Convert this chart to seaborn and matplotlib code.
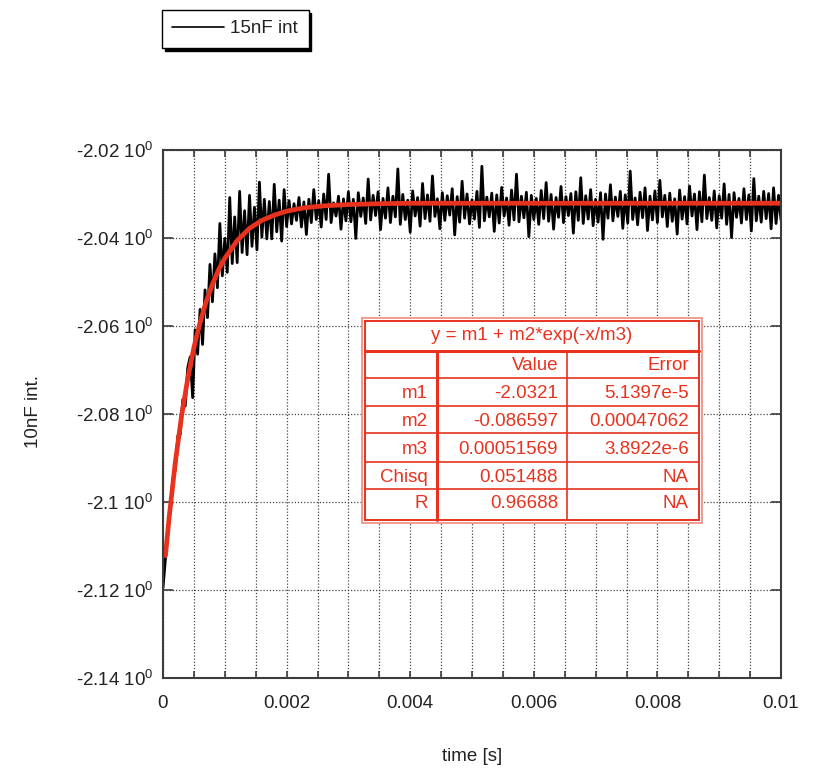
import numpy as np
import pandas as pd
import seaborn as sns
import matplotlib.pyplot as plt
from matplotlib.ticker import MultipleLocator, FixedLocator
from matplotlib.patches import Rectangle
from matplotlib.lines import Line2D

# measured trace, sampled every 40 us from 0 to 0.01 s
signal = [
    -2.1195, -2.1128, -2.1055, -2.1019, -2.0946, -2.0927, -2.0850, -2.0846, -2.0767, -2.0782,
    -2.0695, -2.0670, -2.0763, -2.0609, -2.0664, -2.0562, -2.0642, -2.0518, -2.0581, -2.0460,
    -2.0545, -2.0436, -2.0513, -2.0367, -2.0486, -2.0401, -2.0478, -2.0308, -2.0458, -2.0352,
    -2.0456, -2.0294, -2.0433, -2.0338, -2.0438, -2.0303, -2.0419, -2.0330, -2.0427, -2.0273,
    -2.0398, -2.0312, -2.0402, -2.0317, -2.0402, -2.0278, -2.0386, -2.0314, -2.0407, -2.0290,
    -2.0374,
    -2.0315, -2.0368, -2.0322, -2.0360, -2.0308, -2.0375, -2.0318, -2.0392, -2.0312, -2.0365,
    -2.0290, -2.0358, -2.0315, -2.0375, -2.0300, -2.0358, -2.0255, -2.0365, -2.0320, -2.0350,
    -2.0305, -2.0380, -2.0311, -2.0361, -2.0295, -2.0363, -2.0312, -2.0401, -2.0297, -2.0351,
    -2.0309, -2.0367, -2.0266, -2.0359, -2.0303, -2.0349, -2.0295, -2.0381, -2.0310, -2.0355,
    -2.0286, -2.0365, -2.0305, -2.0352, -2.0243, -2.0369, -2.0301, -2.0358, -2.0314, -2.0387,
    -2.0293, -2.0350, -2.0308, -2.0373, -2.0276, -2.0356, -2.0302, -2.0362, -2.0259, -2.0351,
    -2.0311, -2.0379, -2.0297, -2.0360, -2.0304, -2.0348, -2.0288, -2.0393, -2.0306, -2.0364,
    -2.0271, -2.0355, -2.0300, -2.0368, -2.0313, -2.0357, -2.0294, -2.0376, -2.0237, -2.0361,
    -2.0307, -2.0352, -2.0298, -2.0385, -2.0302, -2.0366, -2.0285, -2.0350, -2.0309, -2.0371,
    -2.0291, -2.0359, -2.0255, -2.0363, -2.0305, -2.0354, -2.0296, -2.0397, -2.0303, -2.0358,
    -2.0310, -2.0369, -2.0292, -2.0356, -2.0274, -2.0362, -2.0301, -2.0380, -2.0308, -2.0353,
    -2.0283, -2.0365, -2.0306, -2.0349, -2.0299, -2.0389, -2.0295, -2.0360, -2.0263, -2.0367,
    -2.0304, -2.0357, -2.0290, -2.0372, -2.0312, -2.0364, -2.0297, -2.0403, -2.0300, -2.0355,
    -2.0279, -2.0361, -2.0307, -2.0351, -2.0294, -2.0378, -2.0302, -2.0366, -2.0248, -2.0358,
    -2.0309, -2.0370, -2.0296, -2.0354, -2.0286, -2.0383, -2.0305, -2.0359, -2.0293, -2.0365,
    -2.0269, -2.0352, -2.0303, -2.0374, -2.0298, -2.0362, -2.0311, -2.0391, -2.0291, -2.0357,
    -2.0306, -2.0368, -2.0282, -2.0350, -2.0300, -2.0381, -2.0295, -2.0363, -2.0257, -2.0356,
    -2.0308, -2.0360, -2.0293, -2.0377, -2.0304, -2.0355, -2.0277, -2.0369, -2.0301, -2.0399,
    -2.0297, -2.0353, -2.0310, -2.0366, -2.0288, -2.0358, -2.0302, -2.0384, -2.0265, -2.0361,
    -2.0305, -2.0364, -2.0294, -2.0356, -2.0299, -2.0379, -2.0286, -2.0367, -2.0303, -2.0359,
]
t_end = 0.01

# red fitted curve
fit_t = [0.00004, 0.0001, 0.0002, 0.0003, 0.0004, 0.0005, 0.0006, 0.0007, 0.0008, 0.0009,
         0.001, 0.0012, 0.0014, 0.0016, 0.0018, 0.002, 0.0023, 0.0026, 0.003, 0.0035,
         0.004, 0.006, 0.008, 0.01]
fit_y = [-2.1122, -2.1034, -2.0909, -2.0805, -2.0720, -2.0649, -2.0592, -2.0544, -2.0505, -2.0472,
         -2.0446, -2.0406, -2.0378, -2.0360, -2.0348, -2.0339, -2.0331, -2.0327, -2.0324, -2.0322,
         -2.0321, -2.0321, -2.0321, -2.0321]

xticks = [0, 0.002, 0.004, 0.006, 0.008, 0.01]
xtick_labels = ['0', '0.002', '0.004', '0.006', '0.008', '0.01']
yticks = [-2.14, -2.12, -2.1, -2.08, -2.06, -2.04, -2.02]

fit_title = 'y = m1 + m2*exp(-x/m3)'
param_names = ['m1', 'm2', 'm3', 'Chisq', 'R']
param_values = ['-2.0321', '-0.086597', '0.00051569', '0.051488', '0.96688']
param_errors = ['5.1397e-5', '0.00047062', '3.8922e-6', 'NA', 'NA']

sns.set_style('ticks')
plt.rcParams['font.family'] = ['Liberation Sans', 'DejaVu Sans']
plt.rcParams['mathtext.fontset'] = 'custom'
plt.rcParams['mathtext.rm'] = 'Liberation Sans'
plt.rcParams['mathtext.default'] = 'regular'

FS = 13.5
TXT = '#222222'
AX = '#3c3c3c'
RED = '#e8321e'
W, H = 815, 770

def fx(px):
    return px / W

def fy(py):
    return 1 - py / H

fig = plt.figure(figsize=(W / 100, H / 100), dpi=100)
ax = fig.add_axes([fx(163), fy(678), (781 - 163) / W, (678 - 150) / H])

df = pd.DataFrame({'time': np.linspace(0, t_end, len(signal)), 'value': signal})
sns.lineplot(data=df, x='time', y='value', ax=ax, color='black', lw=2.0,
             estimator=None, sort=False)
sns.lineplot(x=fit_t, y=fit_y, ax=ax, color=RED, lw=3.4, estimator=None, sort=False)

ax.set_xlim(0, 0.01)
ax.set_ylim(-2.14, -2.02)
ax.xaxis.set_major_locator(FixedLocator(xticks))
ax.xaxis.set_minor_locator(MultipleLocator(0.0005))
ax.set_xticklabels(xtick_labels)
ax.yaxis.set_major_locator(FixedLocator(yticks))
ax.set_yticklabels([f'{v:g} $10^{{0}}$' for v in yticks])

ax.set_axisbelow(True)
ax.grid(which='major', axis='both', ls=(0, (1, 1.5)), color='#444444', lw=0.9)
ax.grid(which='minor', axis='x', ls=(0, (1, 1.5)), color='#444444', lw=0.9)

ax.tick_params(which='both', direction='in', top=True, right=True,
               color=AX, width=1.2, labelsize=FS, labelcolor=TXT)
ax.tick_params(axis='x', which='both', length=5, pad=12)
ax.tick_params(axis='y', which='major', length=7, pad=7)
for s in ax.spines.values():
    s.set_color(AX)
    s.set_linewidth(1.5)

ax.set_xlabel('time [s]', fontsize=FS, color=TXT)
ax.set_ylabel('10nF int.', fontsize=FS, color=TXT)
ax.xaxis.set_label_coords(0.5, (678 - 748) / 528)
ax.yaxis.set_label_coords((42 - 163) / 618, 0.505)

# legend box with black drop shadow, above the plot
handle = Line2D([], [], color='black', lw=1.2)
fig.legend([handle], ['15nF int'], loc='upper left',
           bbox_to_anchor=(fx(162), fy(10)), borderaxespad=0,
           fontsize=FS, fancybox=False, edgecolor='black', framealpha=1,
           handlelength=2.75, handletextpad=0.35, borderpad=0.55,
           shadow={'facecolor': 'black', 'edgecolor': 'black', 'alpha': 1},
           labelcolor=TXT)

# fit results table
x0, x1, y0, y1 = 362, 702, 318, 523
fig.add_artist(Rectangle((fx(x0), fy(y1)), (x1 - x0) / W, (y1 - y0) / H,
                         facecolor='white', edgecolor='#f08a7c', lw=1.2, zorder=2))
fig.add_artist(Rectangle((fx(x0 + 3), fy(y1 - 3)), (x1 - x0 - 6) / W, (y1 - y0 - 6) / H,
                         facecolor='none', edgecolor=RED, lw=1.4, zorder=3))
row_lines = [351, 378, 406, 433, 462, 489]
for i, ry in enumerate(row_lines):
    fig.add_artist(Line2D([fx(x0 + 3), fx(x1 - 3)], [fy(ry), fy(ry)],
                          color=RED, lw=2.2 if i == 0 else 1.2, zorder=3))
for i, cx in enumerate([437, 567]):
    fig.add_artist(Line2D([fx(cx), fx(cx)], [fy(351), fy(y1 - 3)],
                          color=RED, lw=2.2 if i == 0 else 1.2, zorder=3))

fig.text(fx(532), fy(336), fit_title, ha='center', va='center', fontsize=FS, color=RED)
fig.text(fx(558), fy(365), 'Value', ha='right', va='center', fontsize=FS, color=RED)
fig.text(fx(689), fy(365), 'Error', ha='right', va='center', fontsize=FS, color=RED)
row_centers = [393, 421, 449, 477, 504]
for name, val, err, ry in zip(param_names, param_values, param_errors, row_centers):
    fig.text(fx(428), fy(ry), name, ha='right', va='center', fontsize=FS, color=RED)
    fig.text(fx(558), fy(ry), val, ha='right', va='center', fontsize=FS, color=RED)
    fig.text(fx(689), fy(ry), err, ha='right', va='center', fontsize=FS, color=RED)

fig.savefig('out.png', dpi=100)
